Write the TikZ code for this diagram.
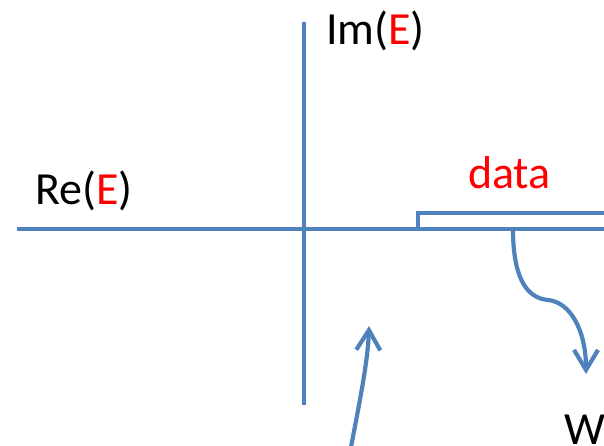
\documentclass[tikz,border=0pt]{standalone}
\usepackage{fontspec}
\setmainfont{Carlito}
\usetikzlibrary{arrows.meta}
\definecolor{axisblue}{HTML}{4F81BD}
\definecolor{datared}{HTML}{FF0000}
\begin{document}
\begin{tikzpicture}[x=1pt,y=-1pt,
  axisline/.style={draw=axisblue,line width=4.2pt},
  curvearrow/.style={draw=axisblue,line width=4.2pt,-{Straight Barb[length=20pt,width=24pt,line width=4.2pt]}},
  lbl/.style={font=\fontsize{46}{52}\selectfont,inner sep=0pt,anchor=base west}]
\useasboundingbox (0,0) rectangle (604,445);
\clip (0,0) rectangle (604,445);
% axes
\draw[axisline] (17,229) -- (604,229);
\draw[axisline] (304,22) -- (304,405);
% data bracket
\draw[axisline,line cap=butt] (418,231) -- (418,213) -- (606,213);
% labels
\node[lbl] (im) at (326,44) {Im(\textcolor{datared}{E})};
\node[lbl] (re) at (35,204) {Re(\textcolor{datared}{E})};
\node[lbl,text=datared] (data) at (468,188) {data};
\node[lbl] (w) at (564,444) {W};
% curved arrows
\coordinate (s1) at (513,229);
\coordinate (t1) at (586,374);
\draw[curvearrow] (s1) .. controls (513,275) and (525,298) .. (548,300)
   .. controls (570,302) and (586,330) .. (t1);
\coordinate (s2) at (351,447);
\coordinate (t2) at (369,326);
\draw[curvearrow] (s2) .. controls (360,400) and (368,360) .. (t2);
\end{tikzpicture}
\end{document}
